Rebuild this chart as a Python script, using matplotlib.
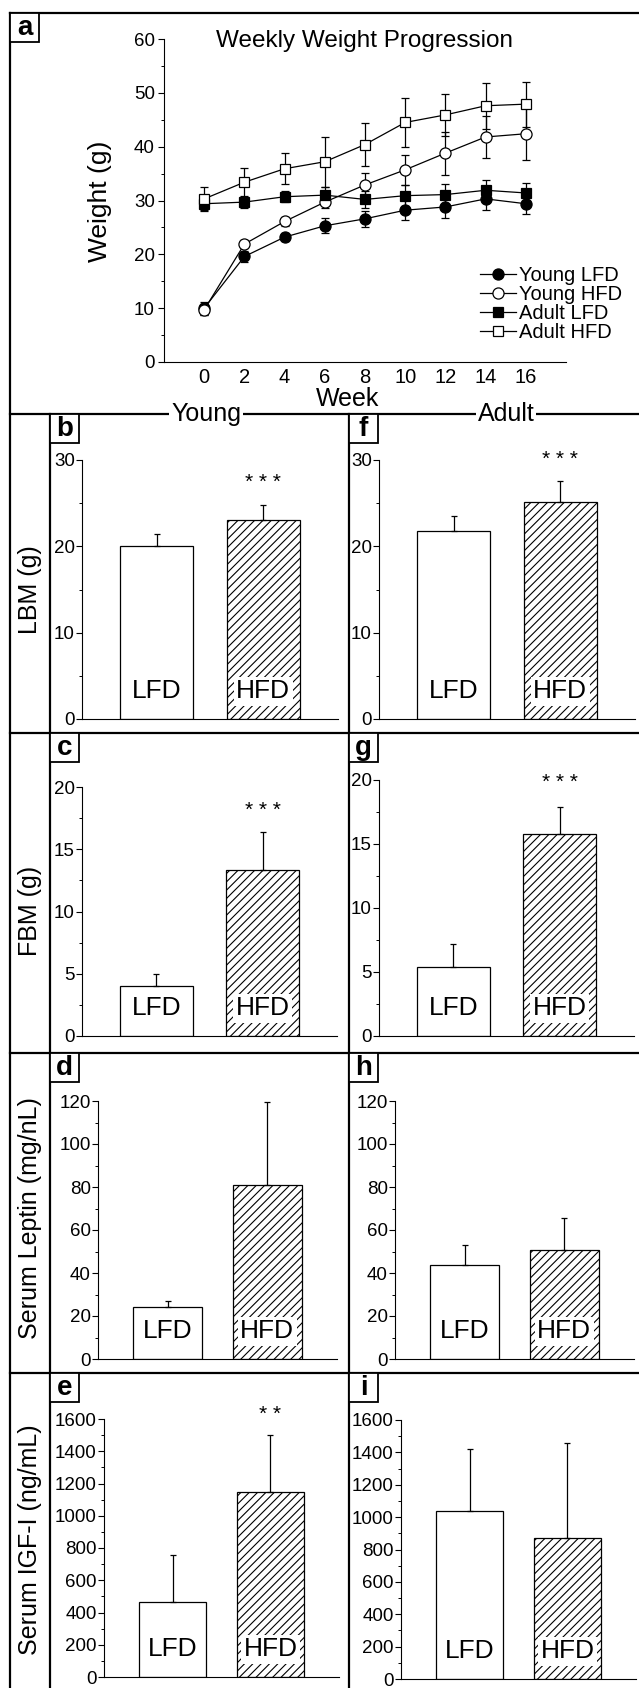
import matplotlib
matplotlib.use("Agg")
import matplotlib.pyplot as plt
from matplotlib.lines import Line2D
from matplotlib.patches import Rectangle
from matplotlib.ticker import MultipleLocator

plt.rcParams['font.family'] = ['Liberation Sans', 'DejaVu Sans']
plt.rcParams['hatch.linewidth'] = 0.8

W, H = 639, 1688

# panel a: weekly weights
weeks = [0, 2, 4, 6, 8, 10, 12, 14, 16]
young_lfd = [10.0, 19.6, 23.2, 25.3, 26.6, 28.2, 28.8, 30.3, 29.4]
young_lfd_err = [1.2, 1.0, 0.8, 1.4, 1.5, 1.9, 2.0, 2.0, 1.9]
young_hfd = [9.7, 21.9, 26.1, 29.7, 32.9, 35.7, 38.8, 41.8, 42.4]
young_hfd_err = [1.0, 0.7, 0.9, 1.1, 2.2, 2.8, 4.0, 3.9, 4.8]
adult_lfd = [29.4, 29.7, 30.7, 31.0, 30.2, 30.9, 31.1, 31.9, 31.4]
adult_lfd_err = [1.2, 1.1, 1.0, 1.6, 1.6, 1.9, 2.0, 1.9, 1.8]
adult_hfd = [30.3, 33.4, 35.9, 37.2, 40.4, 44.5, 45.9, 47.6, 47.9]
adult_hfd_err = [2.2, 2.7, 2.9, 4.6, 4.0, 4.5, 3.9, 4.3, 4.2]

# bar panels
groups = ['LFD', 'HFD']
lbm_young = [20.0, 23.0]
lbm_young_err = [1.4, 1.8]
lbm_adult = [21.8, 25.1]
lbm_adult_err = [1.7, 2.5]
fbm_young = [4.0, 13.3]
fbm_young_err = [1.0, 3.1]
fbm_adult = [5.4, 15.8]
fbm_adult_err = [1.8, 2.1]
leptin_young = [24.1, 81.1]
leptin_young_err = [2.9, 38.6]
leptin_adult = [43.6, 50.9]
leptin_adult_err = [9.5, 14.6]
igf_young = [468, 1150]
igf_young_err = [288, 348]
igf_adult = [1040, 871]
igf_adult_err = [381, 589]

stars = {'b': ('* * *', 27.4), 'f': ('* * *', 30.1), 'c': ('* * *', 18.1),
         'g': ('* * *', 19.8), 'e': ('* *', 1631)}

TICK = 13.5
LABEL = 18


def px_axes(fig, x0, y0, x1, y1):
    return fig.add_axes([x0 / W, 1 - y1 / H, (x1 - x0) / W, (y1 - y0) / H])


def fline(fig, x0, y0, x1, y1, lw=1.6):
    fig.add_artist(Line2D([x0 / W, x1 / W], [1 - y0 / H, 1 - y1 / H],
                          transform=fig.transFigure, color='k', lw=lw,
                          solid_capstyle='projecting', zorder=5))


def letter_box(fig, x, y, s):
    fig.add_artist(Rectangle((x / W, 1 - (y + 29) / H), 29 / W, 29 / H,
                             transform=fig.transFigure, fc='white', ec='k',
                             lw=1.3, zorder=6))
    fig.text((x + 14.5) / W, 1 - (y + 15) / H, s, ha='center', va='center',
             fontsize=20, fontweight='bold', zorder=7)


def style_axes(ax):
    for s in ['top', 'right']:
        ax.spines[s].set_visible(False)
    for s in ['left', 'bottom']:
        ax.spines[s].set_linewidth(0.8)
    ax.tick_params(which='major', direction='out', length=4, width=0.8,
                   labelsize=TICK, pad=1.2)
    ax.tick_params(which='minor', direction='out', length=2.2, width=0.7)


def bar_panel(ax, vals, errs, ymax, major, key):
    style_axes(ax)
    x = [0, 1]
    ax.bar(x[0], vals[0], width=0.69, color='white', edgecolor='k', lw=0.9)
    ax.bar(x[1], vals[1], width=0.69, color='white', edgecolor='k', lw=0.9,
           hatch='////')
    ax.errorbar(x, vals, yerr=[[0, 0], errs], fmt='none', ecolor='k',
                elinewidth=0.9, capsize=2.2, capthick=0.9)
    ax.set_xlim(-0.7, 1.7)
    ax.set_ylim(0, ymax)
    ax.set_xticks([])
    ax.yaxis.set_major_locator(MultipleLocator(major))
    ax.yaxis.set_minor_locator(MultipleLocator(major / 2))
    for i, g in enumerate(groups):
        bb = None
        if i == 1:
            bb = dict(boxstyle='square,pad=0.1', fc='white', ec='none')
        ax.annotate(g, xy=(x[i], 0), xytext=(0, 20), textcoords='offset points',
                    ha='center', va='center', fontsize=19, bbox=bb, zorder=4)
    if key in stars:
        s, yv = stars[key]
        ax.text(1, yv, s, ha='center', va='center', fontsize=15, clip_on=False)


fig = plt.figure(figsize=(W / 100, H / 100), dpi=100)

# ---- panel a
ax = px_axes(fig, 164, 39, 566, 362)
style_axes(ax)
ax.tick_params(axis='x', length=0, labelsize=14.5, pad=4)
ax.tick_params(axis='y', pad=2.5)
series = [
    (young_lfd, young_lfd_err, 'o', 'k', 'Young LFD'),
    (young_hfd, young_hfd_err, 'o', 'white', 'Young HFD'),
    (adult_lfd, adult_lfd_err, 's', 'k', 'Adult LFD'),
    (adult_hfd, adult_hfd_err, 's', 'white', 'Adult HFD'),
]
handles = []
for vals, errs, m, fc, lab in series:
    ax.errorbar(weeks, vals, yerr=errs, fmt='none', ecolor='k', elinewidth=0.9,
                capsize=3.2, capthick=0.9, zorder=2)
    ms = 8 if m == 'o' else 7.2
    ln, = ax.plot(weeks, vals, marker=m, ms=ms, mfc=fc, mec='k', mew=0.9,
                  color='k', lw=0.9, label=lab, zorder=3)
    handles.append(ln)
ax.set_xlim(-2, 18)
ax.set_ylim(0, 60)
ax.set_xticks(weeks)
ax.yaxis.set_major_locator(MultipleLocator(10))
ax.yaxis.set_minor_locator(MultipleLocator(5))
fig.legend(handles=handles, loc='upper left',
           bbox_to_anchor=(480 / W, 1 - 266 / H), frameon=False, fontsize=14.5,
           handlelength=1.8, handletextpad=0.15, labelspacing=0.0,
           borderpad=0, borderaxespad=0)
fig.text(365 / W, 1 - 47 / H, 'Weekly Weight Progression', ha='center',
         va='baseline', fontsize=17.5)
fig.text(100 / W, 1 - 201 / H, 'Weight (g)', ha='center', va='center',
         rotation=90, fontsize=LABEL + 1)
fig.text(348 / W, 1 - 406 / H, 'Week', ha='center', va='baseline',
         fontsize=LABEL)

# ---- bar panels
panels = [
    ('b', (82, 460, 338, 719), lbm_young, lbm_young_err, 30, 10),
    ('f', (379, 460, 635, 719), lbm_adult, lbm_adult_err, 30, 10),
    ('c', (82, 787, 337, 1036), fbm_young, fbm_young_err, 20, 5),
    ('g', (379, 780, 634, 1036), fbm_adult, fbm_adult_err, 20, 5),
    ('d', (98, 1101, 337, 1359), leptin_young, leptin_young_err, 120, 20),
    ('h', (395, 1101, 634, 1359), leptin_adult, leptin_adult_err, 120, 20),
    ('e', (104, 1419, 339, 1677), igf_young, igf_young_err, 1600, 200),
    ('i', (401, 1420, 636, 1679), igf_adult, igf_adult_err, 1600, 200),
]
for key, box, vals, errs, ymax, major in panels:
    bar_panel(px_axes(fig, *box), vals, errs, ymax, major, key)

ylabels = [('LBM (g)', 590), ('FBM (g)', 911), ('Serum Leptin (mg/nL)', 1218),
           ('Serum IGF-I (ng/mL)', 1540)]
for lab, yc in ylabels:
    fig.text(30 / W, 1 - yc / H, lab, ha='center', va='center', rotation=90,
             fontsize=LABEL)

# ---- frame lines
fline(fig, 10, 13, 10, H + 5)
fline(fig, 10, 13, W + 5, 13)
for yy in [414, 733, 1053, 1373]:
    fline(fig, 10, yy, W + 5, yy)
fline(fig, 50, 414, 50, H + 5)
fline(fig, 349, 414, 349, H + 5)

for s, xc in [('Young', 206), ('Adult', 506)]:
    fig.text(xc / W, 1 - 421 / H, s, ha='center', va='baseline',
             fontsize=LABEL, zorder=8,
             bbox=dict(boxstyle='square,pad=0.08', fc='white', ec='none'))

letter_box(fig, 10, 13, 'a')
for key, x, y in [('b', 50, 414), ('f', 349, 414), ('c', 50, 733),
                  ('g', 349, 733), ('d', 50, 1053), ('h', 349, 1053),
                  ('e', 50, 1373), ('i', 349, 1373)]:
    letter_box(fig, x, y, key)

fig.savefig('out.png', dpi=100)
